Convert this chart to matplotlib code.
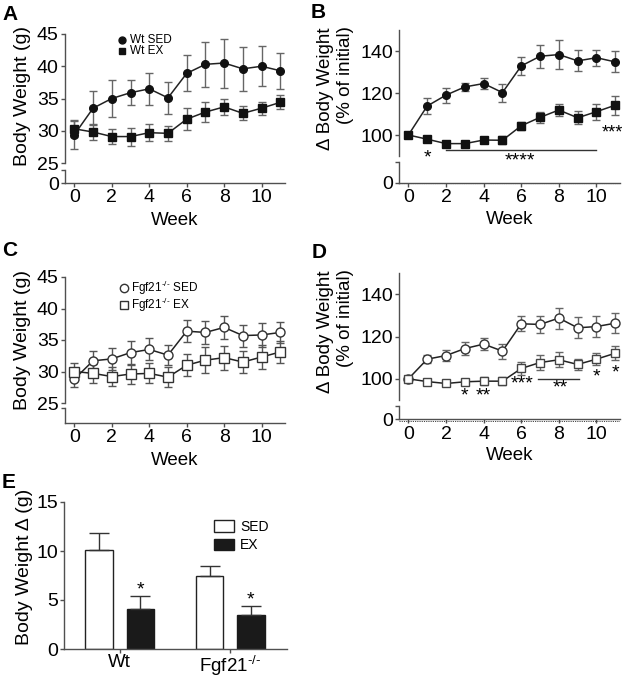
import matplotlib
matplotlib.use('Agg')
import matplotlib.pyplot as plt

plt.rcParams['font.family'] = ['Liberation Sans', 'DejaVu Sans']
plt.rcParams['mathtext.fontset'] = 'custom'
plt.rcParams['mathtext.rm'] = 'Liberation Sans'
plt.rcParams['mathtext.it'] = 'Liberation Sans'

weeks = list(range(12))

# Panel A: body weight (g), Wt
wt_sed_bw = [29.4, 33.5, 35.0, 35.9, 36.5, 35.1, 38.9, 40.3, 40.5, 39.6, 40.0, 39.3]
wt_sed_bw_err = [2.2, 2.6, 2.9, 1.9, 2.5, 2.5, 2.8, 3.5, 3.8, 3.4, 3.1, 2.8]
wt_ex_bw = [30.3, 29.8, 29.1, 29.1, 29.7, 29.6, 31.8, 32.9, 33.7, 32.7, 33.5, 34.4]
wt_ex_bw_err = [1.2, 1.2, 1.2, 1.4, 1.3, 1.2, 1.7, 1.5, 1.3, 1.1, 1.0, 1.1]

# Panel B: % of initial, Wt
wt_sed_pct = [100, 113.8, 119.0, 122.9, 124.5, 120.2, 132.9, 137.5, 138.3, 135.3, 136.8, 134.8]
wt_sed_pct_err = [0.8, 3.9, 3.6, 2.0, 2.8, 4.3, 4.3, 5.5, 7.0, 5.0, 3.8, 5.0]
wt_ex_pct = [100, 98.0, 95.9, 95.9, 97.6, 97.5, 104.4, 108.4, 111.9, 108.2, 111.1, 114.2]
wt_ex_pct_err = [0.6, 1.0, 1.0, 1.0, 1.0, 2.0, 2.0, 2.5, 2.7, 3.0, 3.8, 4.5]

# Panel C: body weight (g), Fgf21-/-
ko_sed_bw = [28.8, 31.7, 32.0, 33.0, 33.5, 32.6, 36.4, 36.2, 37.0, 35.7, 35.8, 36.2]
ko_sed_bw_err = [1.2, 1.6, 1.8, 1.9, 1.75, 1.6, 1.75, 1.85, 1.8, 1.75, 1.95, 1.6]
ko_ex_bw = [30.0, 29.7, 29.2, 29.6, 29.7, 29.1, 31.0, 31.8, 32.2, 31.5, 32.3, 33.1]
ko_ex_bw_err = [1.4, 1.5, 1.5, 1.6, 1.6, 1.6, 1.75, 2.1, 1.9, 1.7, 1.95, 1.8]

# Panel D: % of initial, Fgf21-/-
ko_sed_pct = [100, 109.3, 111.0, 114.3, 116.4, 113.1, 126.0, 125.7, 128.7, 124.1, 124.7, 126.3]
ko_sed_pct_err = [0.8, 2.0, 2.5, 3.0, 3.0, 3.5, 3.5, 4.2, 5.0, 5.0, 5.0, 4.7]
ko_ex_pct = [100, 98.7, 97.8, 98.6, 98.9, 98.9, 104.9, 107.7, 109.0, 106.8, 109.3, 112.1]
ko_ex_pct_err = [0.6, 1.0, 1.0, 1.5, 2.0, 2.0, 3.0, 3.5, 3.5, 2.8, 3.0, 3.2]

# Panel E: body weight change
groups = ['Wt', 'Fgf21$^{\\text{-/-}}$']
sed_delta = [10.1, 7.4]
sed_delta_err = [1.7, 1.1]
ex_delta = [4.1, 3.45]
ex_delta_err = [1.3, 0.95]

W, H = 626, 677
fig = plt.figure(figsize=(W / 100, H / 100), dpi=100)

SP = '#505050'
TS = 14
LS = 13.5
AST = 14


def add_ax(l, t, r, b):
    return fig.add_axes([l / W, 1 - b / H, (r - l) / W, (b - t) / H])


def style(ax, show_bottom):
    ax.patch.set_alpha(0)
    for s in ['top', 'right']:
        ax.spines[s].set_visible(False)
    for s in ['left', 'bottom']:
        ax.spines[s].set_color(SP)
        ax.spines[s].set_linewidth(1.0)
    ax.tick_params(direction='out', length=3, width=1, color=SP, labelsize=TS, pad=1.5)
    if not show_bottom:
        ax.spines['bottom'].set_visible(False)
        ax.set_xticks([])


def series(ax, y, e, marker, ms, mfc, mec, ecol):
    ax.errorbar(weeks, y, yerr=e, fmt='-', color='#222222', lw=1.1, marker=marker,
                ms=ms, mfc=mfc, mec=mec, mew=1.0, ecolor=ecol, elinewidth=1.0,
                capsize=2.8, capthick=1.0, clip_on=False, zorder=3)


XL = (-0.5, 11.25)

# ---------------- Panel A ----------------
axA = add_ax(65, 34, 285, 163)
style(axA, False)
axA.set_xlim(*XL)
axA.set_ylim(25, 45)
axA.set_yticks([25, 30, 35, 40, 45])
series(axA, wt_sed_bw, wt_sed_bw_err, 'o', 5.5, '#111111', '#111111', '#666666')
series(axA, wt_ex_bw, wt_ex_bw_err, 's', 5.5, '#111111', '#111111', '#666666')
axA.plot([2.55], [44.1], 'o', ms=5, color='#111111', clip_on=False)
axA.plot([2.55], [42.3], 's', ms=5, color='#111111', clip_on=False)
axA.text(2.95, 44.1, 'Wt SED', fontsize=8.5, va='center')
axA.text(2.95, 42.3, 'Wt EX', fontsize=8.5, va='center')
axAl = add_ax(65, 170, 285, 183)
style(axAl, True)
axAl.set_xlim(*XL)
axAl.set_ylim(0, 2)
axAl.set_yticks([0, 2])
axAl.set_yticklabels(['0', ''])
axAl.set_xticks([0, 2, 4, 6, 8, 10])
axAl.set_xlabel('Week', fontsize=LS, labelpad=4)
fig.text(23 / W, 1 - 96 / H, 'Body Weight (g)', rotation=90, fontsize=14, ha='center', va='center')

# ---------------- Panel B ----------------
axB = add_ax(399, 30, 620, 156)
style(axB, False)
axB.set_xlim(*XL)
axB.set_ylim(90, 150)
axB.set_yticks([100, 120, 140])
series(axB, wt_sed_pct, wt_sed_pct_err, 'o', 5.5, '#111111', '#111111', '#666666')
series(axB, wt_ex_pct, wt_ex_pct_err, 's', 5.5, '#111111', '#111111', '#666666')
axB.text(1, 89.0, '*', fontsize=AST, ha='center', va='center', clip_on=False)
axB.plot([2, 10], [92.9, 92.9], color='#333333', lw=1.0, clip_on=False)
axB.text(5.95, 87.6, '****', fontsize=AST, ha='center', va='center', clip_on=False)
axB.text(10.85, 100.8, '***', fontsize=13, ha='center', va='center', clip_on=False)
axBl = add_ax(399, 162, 620, 185)
style(axBl, True)
axBl.set_xlim(*XL)
axBl.set_ylim(-1.2, 10)
axBl.spines['bottom'].set_position(('data', 0))
axBl.spines['left'].set_bounds(0, 10)
axBl.set_yticks([0, 10])
axBl.set_yticklabels(['0', ''])
axBl.axhline(-1.0, color='#444444', lw=0.8, ls=(0, (1, 1)), xmin=0, xmax=1)
axBl.set_xticks([0, 2, 4, 6, 8, 10])
axBl.set_xlabel('Week', fontsize=LS, labelpad=4)
fig.text(326 / W, 1 - 89 / H, '\u0394 Body Weight', rotation=90, fontsize=13.5, ha='center', va='center')
fig.text(346 / W, 1 - 75 / H, '(% of initial)', rotation=90, fontsize=13.5, ha='center', va='center')

# ---------------- Panel C ----------------
axC = add_ax(65, 277, 285, 403)
style(axC, False)
axC.set_xlim(*XL)
axC.set_ylim(25, 45)
axC.set_yticks([25, 30, 35, 40, 45])
series(axC, ko_sed_bw, ko_sed_bw_err, 'o', 6.5, 'white', '#333333', '#555555')
series(axC, ko_ex_bw, ko_ex_bw_err, 's', 6.5, 'white', '#333333', '#555555')
axC.plot([2.65], [43.3], 'o', ms=6, mfc='white', mec='#333333', clip_on=False)
axC.plot([2.65], [40.5], 's', ms=6, mfc='white', mec='#333333', clip_on=False)
axC.text(3.05, 43.3, 'Fgf21$^{\\text{-/-}}$ SED', fontsize=8.5, va='center')
axC.text(3.05, 40.5, 'Fgf21$^{\\text{-/-}}$ EX', fontsize=8.5, va='center')
axCl = add_ax(65, 408, 285, 423)
style(axCl, True)
axCl.set_xlim(*XL)
axCl.set_ylim(0, 2)
axCl.set_yticks([2])
axCl.set_yticklabels([''])
axCl.set_xticks([0, 2, 4, 6, 8, 10])
axCl.set_xlabel('Week', fontsize=LS, labelpad=4)
fig.text(23 / W, 1 - 340 / H, 'Body Weight (g)', rotation=90, fontsize=14, ha='center', va='center')

# ---------------- Panel D ----------------
axD = add_ax(399, 273, 620, 400)
style(axD, False)
axD.set_xlim(*XL)
axD.set_ylim(90, 150)
axD.set_yticks([100, 120, 140])
series(axD, ko_sed_pct, ko_sed_pct_err, 'o', 6.5, 'white', '#333333', '#666666')
series(axD, ko_ex_pct, ko_ex_pct_err, 's', 6.0, 'white', '#444444', '#666666')
for x, y, s in [(3, 91.8, '*'), (4, 91.8, '**'), (6.05, 97.6, '***'), (8.05, 95.8, '**'),
                (10, 101.0, '*'), (11, 103.0, '*')]:
    axD.text(x, y, s, fontsize=AST, ha='center', va='center', clip_on=False)
axD.plot([6.9, 9.05], [100, 100], color='#333333', lw=1.0, clip_on=False)
axDl = add_ax(399, 406, 620, 421.5)
style(axDl, True)
axDl.set_xlim(*XL)
axDl.set_ylim(-1.6, 10)
axDl.spines['bottom'].set_position(('data', 0))
axDl.spines['left'].set_bounds(0, 10)
axDl.set_yticks([0, 10])
axDl.set_yticklabels(['0', ''])
axDl.axhline(-1.2, color='#444444', lw=0.8, ls=(0, (1, 1)))
axDl.set_xticks([0, 2, 4, 6, 8, 10])
axDl.set_xlabel('Week', fontsize=LS, labelpad=3)
fig.text(326 / W, 1 - 332 / H, '\u0394 Body Weight', rotation=90, fontsize=13.5, ha='center', va='center')
fig.text(346 / W, 1 - 318 / H, '(% of initial)', rotation=90, fontsize=13.5, ha='center', va='center')

# ---------------- Panel E ----------------
axE = add_ax(64, 502, 287, 649)
style(axE, True)
axE.set_xlim(-0.506, 1.515)
axE.set_ylim(0, 15)
axE.set_yticks([0, 5, 10, 15])
gx = [0, 1]
off = 0.187
bw = 0.25
axE.bar([g - off for g in gx], sed_delta, bw, color='white', edgecolor='#222222', lw=1.0,
        yerr=[[0, 0], sed_delta_err], error_kw=dict(ecolor='#333333', elinewidth=1.0, capsize=7, capthick=1.0),
        label='SED', zorder=2)
axE.bar([g + off for g in gx], ex_delta, bw, color='#1a1a1a', edgecolor='#1a1a1a', lw=1.0,
        yerr=[[0, 0], ex_delta_err], error_kw=dict(ecolor='#333333', elinewidth=1.0, capsize=7, capthick=1.0),
        label='EX', zorder=2)
for g, v, e in zip(gx, ex_delta, ex_delta_err):
    axE.text(g + off, v + e + 0.6, '*', fontsize=AST, ha='center', va='center')
axE.set_xticks(gx)
axE.set_xticklabels(groups, fontsize=13.5)
axE.tick_params(axis='x', pad=0.5)
axE.legend(loc='upper left', bbox_to_anchor=(0.64, 0.925), frameon=False, fontsize=10,
           handlelength=1.5, handleheight=0.9, handletextpad=0.4, labelspacing=0.3, borderpad=0)
fig.text(25 / W, 1 - 567 / H, 'Body Weight \u0394 (g)', rotation=90, fontsize=14, ha='center', va='center')

# Panel letters
for lbl, x, y in [('A', 2, 14), ('B', 311, 13), ('C', 2, 251), ('D', 312, 253), ('E', 2, 483)]:
    fig.text(x / W, 1 - y / H, lbl, fontsize=15, fontweight='bold', ha='left', va='center')

fig.savefig('out.png', dpi=100)
